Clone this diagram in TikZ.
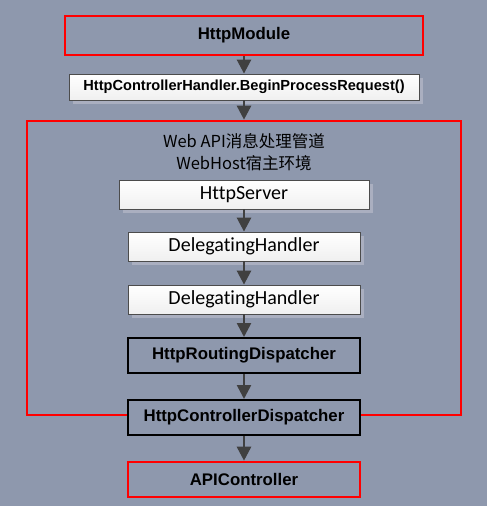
\documentclass[tikz,border=0pt]{standalone}
\usepackage{fontspec}
\setmainfont{Liberation Sans}
\newfontfamily\calfont[Ligatures=NoCommon]{Carlito}
\newfontfamily\cjkfont{Noto Sans CJK SC}
\usepackage{xcolor}
\usepackage{tikz}
\usetikzlibrary{arrows.meta,positioning,shadows}

\definecolor{bgcol}{RGB}{142,152,173}
\definecolor{shadowcol}{RGB}{170,175,192}
\definecolor{arrowcol}{RGB}{64,64,64}
\definecolor{framered}{RGB}{255,0,0}

\begin{document}
\begin{tikzpicture}[
            x=1pt, y=-1pt,
            every node/.style={font=\fontsize{16.8}{19}\selectfont\bfseries, inner sep=0pt},
            redbox/.style={draw=framered, line width=2.6pt, minimum width=232pt, minimum height=35pt},
            blackbox/.style={draw=black, line width=2pt, fill=bgcol, minimum width=232pt, minimum height=35pt},
            whitebox/.style={draw=black!70, line width=0.8pt, top color=white, bottom color=gray!12,
                drop shadow={shadow xshift=4pt, shadow yshift=-4pt, fill=shadowcol, opacity=1},
                minimum width=232pt, minimum height=29pt, font=\calfont\fontsize{20}{22}\selectfont},
            flow/.style={-{Triangle[width=14pt,length=14pt]}, line width=2.6pt, draw=arrowcol},
        ]
            \fill[bgcol] (0,0) rectangle (487,506);
            \useasboundingbox (0,0) rectangle (487,506);

            % outer pipeline
            \node[redbox, minimum width=434pt, minimum height=294pt] (pipe) at (244,268) {};
            \node[font=\cjkfont\fontsize{16.5}{18}\selectfont] (title1) at (244,141) {Web API消息处理管道};
            \node[font=\cjkfont\fontsize{16.5}{18}\selectfont] (title2) at (244,163) {WebHost宿主环境};

            \node[redbox, minimum width=358pt, minimum height=39pt] (mod) at (244,35.5) {HttpModule};
            \node[whitebox, minimum width=350pt, minimum height=26pt, font=\fontsize{14.6}{16}\selectfont\bfseries]
                (hdl) at (244,87) {HttpControllerHandler.BeginProcessRequest()};

            \node[whitebox, minimum width=250pt] (srv) at (244,194.5) {HttpServer};
            \node[whitebox] (dh1) at (244,246.5) {DelegatingHandler};
            \node[whitebox] (dh2) at (244,299.5) {DelegatingHandler};
            \node[blackbox] (route) at (244,355.5) {HttpRoutingDispatcher};
            \node[blackbox] (ctrl) at (244,417.5) {HttpControllerDispatcher};
            \node[redbox] (api) at (244,479.5) {APIController};

            \draw[flow] (mod) -- (hdl);
            \draw[flow] (hdl) -- (pipe.north);
            \draw[flow] (srv) -- (dh1);
            \draw[flow] (dh1) -- (dh2);
            \draw[flow] (dh2) -- (route);
            \draw[flow] (route) -- (ctrl);
            \draw[flow] (ctrl) -- (api);
        \end{tikzpicture}
\end{document}
